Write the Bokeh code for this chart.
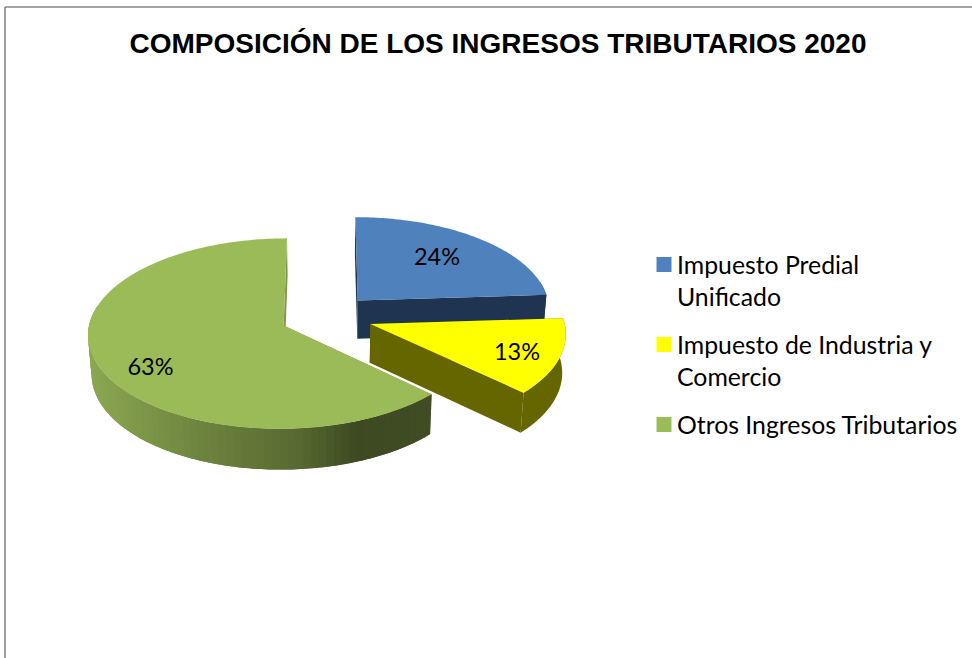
import math
from bokeh.plotting import figure
from bokeh.models import Range1d
from bokeh.core.properties import value
from bokeh.embed import file_html
from bokeh.resources import INLINE

title = "COMPOSICIÓN DE LOS INGRESOS TRIBUTARIOS 2020"
categories = ["Impuesto Predial\nUnificado", "Impuesto de Industria y\nComercio", "Otros Ingresos Tributarios"]
values = [24, 13, 63]
top_colors = ["#4F81BD", "#FFFF00", "#9BBB59"]
wall_colors = ["#1F3450", "#666600", "#7F994A"]

W, H = 972, 658
CX, CY, RX, RY, K = 326, 316, 193, 93, 0.085
EXPLODE, DROP, SHRINK = 0.24, 38.5, 0.985
green_stops = [(86, "#8CA852"), (200, "#6E853F"), (300, "#586A31"), (360, "#3D4A21"), (432, "#414C24")]

p = figure(width=W, height=H, x_range=Range1d(0, W), y_range=Range1d(H, 0),
           output_backend="svg", toolbar_location=None, min_border=0,
           margin=(0, 0, 0, 0), outline_line_color=None, background_fill_color="white")
p.xaxis.visible = False
p.yaxis.visible = False
p.grid.visible = False

p.segment([4.5, 4.5], [6.5, 6.5], [4.5, W], [H, 6.5], line_color="#868686", line_width=1.6)


def project(X, Y, bottom=False):
    w = 1 - K * Y
    s = SHRINK if bottom else 1
    return CX + s * RX * X / w, CY + s * RY * Y / w + (DROP / w if bottom else 0)


def rim(off, deg):
    a = math.radians(deg)
    return off[0] + math.sin(a), off[1] - math.cos(a)


def hex_mix(c1, c2, t):
    a = [int(c1[i:i + 2], 16) for i in (1, 3, 5)]
    b = [int(c2[i:i + 2], 16) for i in (1, 3, 5)]
    return "#%02X%02X%02X" % tuple(round(u + (v - u) * t) for u, v in zip(a, b))


def green_at(x):
    for (x0, c0), (x1, c1) in zip(green_stops, green_stops[1:]):
        if x <= x1:
            return hex_mix(c0, c1, max(0.0, (x - x0) / (x1 - x0)))
    return green_stops[-1][1]


def draw(pts, color):
    p.patch([q[0] for q in pts], [q[1] for q in pts], fill_color=color, line_color=None)


def radial_wall(off, deg, color):
    draw([project(*off), project(*rim(off, deg)), project(*rim(off, deg), True), project(*off, True)], color)


def outer_wall(off, d0, d1, color):
    n = max(2, int(d1 - d0))
    arc = [d0 + (d1 - d0) * j / n for j in range(n + 1)]
    draw([project(*rim(off, d)) for d in arc] + [project(*rim(off, d), True) for d in reversed(arc)], color)


start = 0.0
total = sum(values)
slices = []
for i, v in enumerate(values):
    sweep = 360.0 * v / total
    mid = math.radians(start + sweep / 2)
    offset = (EXPLODE * math.sin(mid), -EXPLODE * math.cos(mid))
    slices.append((i, start, start + sweep, offset))
    start += sweep

# painter's order: back slice, the large slice, the front slice
for i, a0, a1, off in [slices[0], slices[2], slices[1]]:
    n0 = -math.cos(math.radians(a0 - 90))
    n1 = -math.cos(math.radians(a1 + 90))
    if n0 < -0.01:
        radial_wall(off, a0, wall_colors[i])
    if n1 < -0.01:
        radial_wall(off, a1, wall_colors[i])
    lo, hi = max(a0, 78.0), min(a1, 282.0)
    if hi > lo:
        if i == 2:
            # shaded wall: overlapping strips painted from one end to the other
            steps = 70
            for s in range(steps):
                d0 = lo + (hi - lo) * s / steps
                d1 = min(hi, lo + (hi - lo) * (s + 2) / steps)
                xm = project(*rim(off, d0))[0]
                outer_wall(off, d0, d1, green_at(xm))
        else:
            outer_wall(off, lo, hi, wall_colors[i])
    if n0 >= -0.01:
        radial_wall(off, a0, wall_colors[i])
    if n1 >= -0.01:
        radial_wall(off, a1, wall_colors[i])
    n = max(8, int(a1 - a0))
    draw([project(*off)] + [project(*rim(off, a0 + (a1 - a0) * j / n)) for j in range(n + 1)], top_colors[i])

# title
p.text([497.5], [43], text=[title], text_font=value("Liberation Sans"), text_font_style="bold",
       text_font_size="28px", text_align="center", text_baseline="middle", text_color="black")

# data labels
label_x = [436.5, 516.5, 150]
label_y = [255, 350, 365.5]
p.text(label_x, label_y, text=["%d%%" % v for v in values], text_font=value("Lato"),
       text_font_size="23.5px", text_align="center", text_baseline="middle", text_color="black")

# legend
leg_y = 263.5
line_gap, entry_gap = 32.5, 47.5
for cat, col in zip(categories, top_colors):
    p.quad(left=[656], right=[671], top=[leg_y - 7], bottom=[leg_y + 8], fill_color=col, line_color=None)
    for k, line in enumerate(cat.split("\n")):
        p.text([676.5], [leg_y + k * line_gap], text=[line], text_font=value("Lato"), text_font_size="24.8px",
               text_align="left", text_baseline="middle", text_color="black")
    leg_y += (cat.count("\n")) * line_gap + entry_gap

open("out.html", "w").write(file_html(p, INLINE))
